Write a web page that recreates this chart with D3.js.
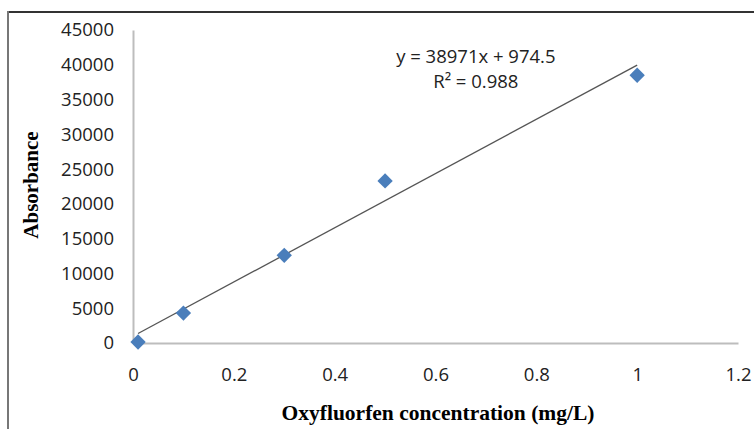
<!DOCTYPE html>
<html>
<head>
<meta charset="utf-8">
<script src="https://cdn.jsdelivr.net/npm/d3@7"></script>
<style>
  body { margin: 0; background: #fff; }
</style>
</head>
<body>
<div id="chart"></div>
<script>
/*
    DATA
*/
let concentrations = [0.01, 0.1, 0.3, 0.5, 1];
let absorbances = [150, 4300, 12600, 23300, 38500];
let xTicks = [0, 0.2, 0.4, 0.6, 0.8, 1, 1.2];
let yTicks = [0, 5000, 10000, 15000, 20000, 25000, 30000, 35000, 40000, 45000];
let slope = 38971, intercept = 974.5;
let equationLines = ["y = 38971x + 974.5", "R² = 0.988"];

/*
    LAYOUT
*/
let SIZE = { width: 754, height: 429 };
let PLOT = { left: 133, right: 738, top: 30, bot: 343 };
let TICK_FONT = "18.5px";

var svg = d3.select("#chart")
    .append("svg")
    .attr("width", SIZE.width)
    .attr("height", SIZE.height);

// outer frame (top + left only, the rest is cut off)
svg.append("line")
    .attr("x1", 7).attr("x2", SIZE.width)
    .attr("y1", 12).attr("y2", 12)
    .style("stroke", "#333").style("stroke-width", "2px");
svg.append("line")
    .attr("x1", 8).attr("x2", 8)
    .attr("y1", 11).attr("y2", SIZE.height)
    .style("stroke", "#777").style("stroke-width", "2px");

var x = d3.scaleLinear().domain([0, 1.2]).range([PLOT.left, PLOT.right]);
var y = d3.scaleLinear().domain([0, 45000]).range([PLOT.bot, PLOT.top]);

// axes
var xAxis = svg.append("g")
    .attr("transform", `translate(0, ${PLOT.bot})`)
    .call(d3.axisBottom(x).tickValues(xTicks).tickSize(0).tickPadding(25).tickFormat(d => d));
var yAxis = svg.append("g")
    .attr("transform", `translate(${PLOT.left}, 0)`)
    .call(d3.axisLeft(y).tickValues(yTicks).tickSize(0).tickPadding(19).tickFormat(d => d));

[xAxis, yAxis].forEach(a => {
    a.select(".domain").style("stroke", "#bdbdbd").style("stroke-width", "2px");
    a.selectAll("text")
        .style("font-family", "'Open Sans', sans-serif")
        .style("font-size", TICK_FONT)
        .style("fill", "#222");
});

// trendline over the data range
var xs = d3.extent(concentrations);
svg.append("line")
    .attr("x1", x(xs[0])).attr("y1", y(slope * xs[0] + intercept))
    .attr("x2", x(xs[1])).attr("y2", y(slope * xs[1] + intercept))
    .style("stroke", "#555")
    .style("stroke-width", "1.3px");

// points (diamonds)
svg.selectAll("path.pt")
    .data(concentrations)
    .enter()
    .append("path")
    .attr("class", "pt")
    .attr("d", d3.symbol().type(d3.symbolDiamond2).size(150))
    .attr("transform", (d, i) => `translate(${x(d)}, ${y(absorbances[i])})`)
    .attr("fill", "#4a7ebb");

// equation label
svg.append("g").selectAll("text")
    .data(equationLines)
    .enter()
    .append("text")
    .attr("x", x(0.68))
    .attr("y", (d, i) => y(40200) + i * 25)
    .attr("text-anchor", "middle")
    .style("font-family", "'Open Sans', sans-serif")
    .style("font-size", TICK_FONT)
    .style("fill", "#222")
    .text(d => d);

// axis titles
svg.append("text")
    .attr("x", 438).attr("y", 420)
    .attr("text-anchor", "middle")
    .style("font-family", "'Liberation Serif', 'Times New Roman', serif")
    .style("font-weight", "bold")
    .style("font-size", "21.5px")
    .text("Oxyfluorfen concentration (mg/L)");

svg.append("text")
    .attr("transform", "translate(38, 185) rotate(-90)")
    .attr("text-anchor", "middle")
    .style("font-family", "'Liberation Serif', 'Times New Roman', serif")
    .style("font-weight", "bold")
    .style("font-size", "21px")
    .text("Absorbance");
</script>
</body>
</html>
